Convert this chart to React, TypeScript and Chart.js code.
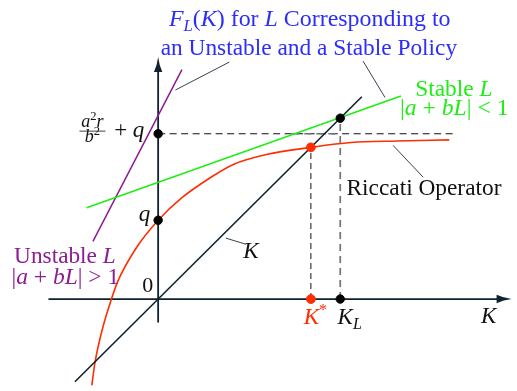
import { useEffect, useRef, useState } from "react";
import { Chart, registerables } from "chart.js";

Chart.register(...registerables);

// Riccati operator F(K), sampled along the curve
const riccatiK = [-3.39, -3.22, -2.85, -2.385, -2.05, -1.135, 0, 1.2, 2.7, 3.865, 5.535, 7.8, 9.85, 12.2, 14.865];
const riccatiF = [-4.45, -3.235, -1.55, 0, 0.935, 2.6, 4.05, 5.2, 6.265, 6.935, 7.435, 7.8, 8.05, 8.125, 8.185];

// F = K diagonal
const identityK = [-4.25, 10.4];

// F_L(K) for a stable and an unstable policy L
const stableK = [-3.65, 12.4];
const stableF = [4.69, 10.44];
const unstableK = [-3.33, 1.215];
const unstableF = [2.97, 11.8];

// Key values
const Q = 4.05;
const BOUND = 8.5; // a^2 r / b^2 + q
const K_STAR = 7.8;
const K_L = 9.3;

// Axis extents
const xAxis = [-5.6, 18.05];
const yAxis = [-1.2, 12.45];

const AXIS = "rgb(16,34,46)";
const RED = "rgb(255,45,0)";
const GREEN = "rgb(30,238,20)";
const PURPLE = "rgb(140,28,145)";
const BLUE = "rgb(45,45,250)";
const GREY = "rgb(115,115,115)";
const FAMILY = "'Liberation Serif', serif";
const ASCENT = 0.8375; // baseline offset inside a line-height:1 box

type Run = { t: string; it?: boolean; sub?: boolean; sup?: boolean };
type Label = { runs: Run[]; x: number; y: number; size: number; w?: number; color: string };
type Placed = { l: Label; cx: number; by: number; s: number };

const labels: Label[] = [
  {
    runs: [{ t: "F", it: true }, { t: "L", it: true, sub: true }, { t: "(" }, { t: "K", it: true }, { t: ")" }, { t: " for " }, { t: "L", it: true }, { t: " Corresponding to" }],
    x: 7.74, y: 13.985, size: 22, w: 281.7, color: BLUE,
  },
  { runs: [{ t: "an Unstable and a Stable Policy" }], x: 7.7, y: 12.515, size: 22, w: 296.6, color: BLUE },
  { runs: [{ t: "Unstable " }, { t: "L", it: true }], x: -4.76, y: 1.815, size: 22, w: 101.7, color: PURPLE },
  {
    runs: [{ t: "|" }, { t: "a", it: true }, { t: " + " }, { t: "b", it: true }, { t: "L", it: true }, { t: "| > 1" }],
    x: -4.74, y: 0.725, size: 22, w: 107.7, color: PURPLE,
  },
  { runs: [{ t: "Stable " }, { t: "L", it: true }], x: 15.1, y: 10.385, size: 22, w: 77.4, color: GREEN },
  {
    runs: [{ t: "|" }, { t: "a", it: true }, { t: " + " }, { t: "b", it: true }, { t: "L", it: true }, { t: "| < 1" }],
    x: 15.12, y: 9.435, size: 22, w: 108.7, color: GREEN,
  },
  { runs: [{ t: "Riccati Operator" }], x: 13.575, y: 5.3, size: 22, w: 155, color: "#111" },
  { runs: [{ t: "K", it: true }, { t: "*", sup: true }], x: 8.035, y: -1.285, size: 23, color: RED },
  { runs: [{ t: "K", it: true }, { t: "L", it: true, sub: true }], x: 9.785, y: -1.285, size: 23, color: "#111" },
  { runs: [{ t: "K", it: true }], x: 16.885, y: -1.265, size: 23, color: "#111" },
  { runs: [{ t: "K", it: true }], x: 4.74, y: 2.1, size: 23, color: "#111" },
  { runs: [{ t: "q", it: true }], x: -0.7, y: 3.985, size: 23, color: "#111" },
  { runs: [{ t: "0" }], x: -0.535, y: 0.35, size: 22, color: "#111" },
  { runs: [{ t: "a", it: true }, { t: "2", sup: true }, { t: "r", it: true }], x: -3.355, y: 8.83, size: 18, color: "#111" },
  { runs: [{ t: "b", it: true }, { t: "2", sup: true }], x: -3.355, y: 8.06, size: 18, color: "#111" },
  { runs: [{ t: "+ " }, { t: "q", it: true }], x: -1.475, y: 8.3, size: 23, color: "#111" },
];

// Thin leader lines tying labels to their curves
const leaders: [number, number, number, number][] = [
  [0.885, 10.75, 3.635, 12.185],
  [10.465, 12.235, 11.585, 10.365],
  [12.0, 7.9, 13.535, 6.265],
  [3.45, 3.135, 4.5, 2.815],
];

// Width of a run of text as laid out by the page itself
function textWidth(runs: Run[], s: number): number {
  const box = document.createElement("span");
  box.style.cssText = `position:absolute;left:0;top:0;visibility:hidden;white-space:nowrap;font-family:${FAMILY};font-size:${s}px;line-height:1`;
  for (const r of runs) {
    const part = document.createElement("span");
    part.textContent = r.t;
    part.style.fontStyle = r.it ? "italic" : "normal";
    if (r.sub || r.sup) part.style.fontSize = `${s * 0.7}px`;
    box.appendChild(part);
  }
  document.body.appendChild(box);
  const w = box.getBoundingClientRect().width;
  box.remove();
  return w;
}

const axesPlugin = {
  id: "axesPlugin",
  beforeDatasetsDraw(chart: any) {
    const { ctx, scales } = chart;
    const X = (v: number) => scales.x.getPixelForValue(v);
    const Y = (v: number) => scales.y.getPixelForValue(v);
    ctx.save();
    ctx.strokeStyle = AXIS;
    ctx.fillStyle = AXIS;
    ctx.lineWidth = 1.8;
    const x0 = X(0);
    const y0 = Y(0);
    const xTip = X(xAxis[1]);
    const yTip = Y(yAxis[1]);
    ctx.beginPath();
    ctx.moveTo(X(xAxis[0]), y0);
    ctx.lineTo(xTip - 8, y0);
    ctx.moveTo(x0, Y(yAxis[0]));
    ctx.lineTo(x0, yTip + 8);
    ctx.stroke();
    // arrow heads
    const L = 15;
    const H = 4.2;
    ctx.beginPath();
    ctx.moveTo(xTip, y0);
    ctx.quadraticCurveTo(xTip - L * 0.55, y0 - 1, xTip - L, y0 - H);
    ctx.lineTo(xTip - L, y0 + H);
    ctx.quadraticCurveTo(xTip - L * 0.55, y0 + 1, xTip, y0);
    ctx.fill();
    ctx.beginPath();
    ctx.moveTo(x0, yTip);
    ctx.quadraticCurveTo(x0 - 1, yTip + L * 0.55, x0 - H, yTip + L);
    ctx.lineTo(x0 + H, yTip + L);
    ctx.quadraticCurveTo(x0 + 1, yTip + L * 0.55, x0, yTip);
    ctx.fill();
    ctx.restore();
  },
  afterDraw(chart: any) {
    const { ctx, scales } = chart;
    const X = (v: number) => scales.x.getPixelForValue(v);
    const Y = (v: number) => scales.y.getPixelForValue(v);
    ctx.save();
    ctx.strokeStyle = "rgb(30,45,60)";
    ctx.lineWidth = 0.9;
    for (const [a, b, c, d] of leaders) {
      ctx.beginPath();
      ctx.moveTo(X(a), Y(b));
      ctx.lineTo(X(c), Y(d));
      ctx.stroke();
    }
    // fraction bar for a^2 r / b^2
    ctx.strokeStyle = "#111";
    ctx.lineWidth = 0.8;
    ctx.beginPath();
    ctx.moveTo(X(-3.355) - 13, Y(8.635));
    ctx.lineTo(X(-3.355) + 13, Y(8.635));
    ctx.stroke();
    ctx.restore();
  },
};

export default function App() {
  const ref = useRef<HTMLCanvasElement>(null);
  const [placed, setPlaced] = useState<Placed[]>([]);

  useEffect(() => {
    if (!ref.current) return;
    const line = (xs: number[], ys: number[]) => xs.map((x, i) => ({ x, y: ys[i] }));
    const chart = new Chart(ref.current, {
      type: "scatter",
      data: {
        datasets: [
          {
            data: [{ x: K_STAR, y: K_STAR }, { x: K_STAR, y: 0 }],
            backgroundColor: RED,
            borderColor: RED,
            pointRadius: 4.4,
            showLine: false,
          },
          {
            data: [{ x: 0, y: Q }, { x: 0, y: BOUND }, { x: K_L, y: K_L }, { x: K_L, y: 0 }],
            backgroundColor: "#000",
            borderColor: "#000",
            pointRadius: 4.2,
            showLine: false,
          },
          {
            data: line(identityK, identityK),
            borderColor: AXIS,
            borderWidth: 1.6,
            pointRadius: 0,
            showLine: true,
          },
          {
            data: line(riccatiK, riccatiF),
            borderColor: RED,
            borderWidth: 1.6,
            pointRadius: 0,
            showLine: true,
            cubicInterpolationMode: "monotone",
          },
          {
            data: line(stableK, stableF),
            borderColor: GREEN,
            borderWidth: 1.6,
            pointRadius: 0,
            showLine: true,
          },
          {
            data: line(unstableK, unstableF),
            borderColor: PURPLE,
            borderWidth: 1.5,
            pointRadius: 0,
            showLine: true,
          },
          {
            data: [{ x: K_L, y: 0 }, { x: K_L, y: K_L }],
            borderColor: GREY,
            borderWidth: 1.7,
            borderDash: [7, 5],
            pointRadius: 0,
            showLine: true,
          },
          {
            data: [{ x: 6.85, y: BOUND }, { x: K_L, y: BOUND }],
            borderColor: GREY,
            borderWidth: 1.6,
            borderDash: [7, 5],
            pointRadius: 0,
            showLine: true,
          },
          {
            data: [{ x: K_STAR, y: 0 }, { x: K_STAR, y: K_STAR }],
            borderColor: "#111",
            borderWidth: 1,
            borderDash: [6, 4],
            pointRadius: 0,
            showLine: true,
          },
          {
            data: [{ x: 0, y: BOUND }, { x: 15.2, y: BOUND }],
            borderColor: "#111",
            borderWidth: 1,
            borderDash: [7, 4.5],
            pointRadius: 0,
            showLine: true,
          },
        ],
      },
      options: {
        animation: false,
        responsive: true,
        maintainAspectRatio: false,
        devicePixelRatio: 1,
        layout: { padding: 0 },
        plugins: { legend: { display: false }, tooltip: { enabled: false } },
        scales: {
          x: { type: "linear", min: -7.8, max: 18.05, display: false },
          y: { type: "linear", min: -4.45, max: 15.1, display: false },
        },
      },
      plugins: [axesPlugin],
    });

    // place the text labels through the chart's scales
    const sx = chart.scales.x;
    const sy = chart.scales.y;
    setPlaced(
      labels.map((l) => {
        const s = l.w ? (l.size * l.w) / textWidth(l.runs, l.size) : l.size;
        return { l, cx: sx.getPixelForValue(l.x), by: sy.getPixelForValue(l.y), s };
      })
    );

    return () => chart.destroy();
  }, []);

  return (
    <div style={{ position: "absolute", left: 0, top: 0, width: 517, height: 391, background: "#fff" }}>
      <canvas ref={ref} />
      {placed.map((p, i) => (
        <div
          key={i}
          style={{
            position: "absolute",
            left: p.cx,
            top: p.by - ASCENT * p.s,
            transform: "translateX(-50%)",
            whiteSpace: "nowrap",
            fontFamily: FAMILY,
            fontSize: p.s,
            lineHeight: 1,
            color: p.l.color,
            pointerEvents: "none",
          }}
        >
          {p.l.runs.map((r, j) => (
            <span
              key={j}
              style={{
                fontStyle: r.it ? "italic" : "normal",
                fontSize: r.sub || r.sup ? p.s * 0.7 : undefined,
                position: "relative",
                top: r.sub ? 0.22 * p.s : r.sup ? -0.4 * p.s : 0,
              }}
            >
              {r.t}
            </span>
          ))}
        </div>
      ))}
    </div>
  );
}
